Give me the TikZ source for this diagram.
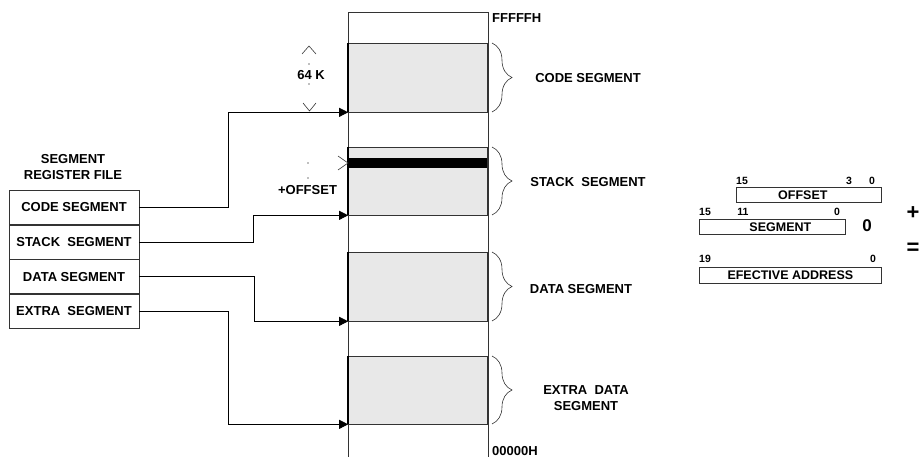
\documentclass[tikz,border=0pt]{standalone}
\usepackage{fontspec}
\setmainfont{Liberation Sans}
\usetikzlibrary{arrows.meta,decorations.pathreplacing}
\definecolor{segfill}{HTML}{E8E8E8}
\definecolor{rule}{HTML}{333333}
\begin{document}
\begin{tikzpicture}[x=1pt,y=-1pt,
  lbl/.style={font=\fontsize{13}{16}\selectfont\bfseries,inner sep=0pt,align=center},
  small/.style={font=\fontsize{10.5}{12}\selectfont\bfseries,inner sep=0pt},
  boxlbl/.style={font=\fontsize{12.5}{14}\selectfont\bfseries,inner sep=0pt},
  segbox/.style={draw=rule,fill=segfill,line width=0.7pt,minimum width=139pt,inner sep=0pt},
  regbox/.style={draw=rule,line width=0.8pt,minimum width=130pt,minimum height=33.75pt,inner sep=0pt,
    font=\fontsize{13}{16}\selectfont\bfseries},
  conn/.style={line width=0.8pt,-{Triangle[length=9pt,width=9pt]}},
  brc/.style={draw=rule,line width=0.6pt,decorate,decoration={brace,amplitude=20pt}},
  fieldbox/.style={draw=rule,line width=0.7pt,inner sep=0pt},
  chev/.style={line width=0.6pt,draw=rule},
  dot/.style={fill=gray,draw=none,circle,inner sep=0.6pt}]
\useasboundingbox (0,0) rectangle (924,457);

% memory column
\draw[rule,line width=0.8pt] (348,457) -- (348,12) -- (488,12) -- (488,457);

% segments in memory
\node[segbox,minimum height=69pt] (code)  at (418,77.5) {};
\node[segbox,minimum height=68pt] (stack) at (418,181) {};
\node[segbox,minimum height=69pt] (data)  at (418,286.5) {};
\node[segbox,minimum height=68pt] (extra) at (418,390) {};
\foreach \s in {code,stack,data,extra}
  \draw[line width=1.8pt] (\s.north west) -- (\s.south west);
\fill (349,158) rectangle (487,168);

% braces and segment names
\draw[brc] (492,43) -- (492,112);
\draw[brc] (492,147) -- (492,215);
\draw[brc] (492,252) -- (492,321);
\draw[brc] (492,356) -- (492,424);
\node[lbl] (lcode)  at (588,78)  {CODE SEGMENT};
\node[lbl] (lstack) at (588,182) {STACK\ \ SEGMENT};
\node[lbl] (ldata)  at (581,289) {DATA SEGMENT};
\node[lbl] (lextra) at (586,398) {EXTRA\ \ DATA\\SEGMENT};

% address limits
\node[lbl,anchor=west] (top) at (492,18) {FFFFFH};
\node[lbl,anchor=west] (bot) at (492,451) {00000H};

% segment size mark
\draw[chev] (302,54) -- (309,46) -- (316,54);
\draw[chev] (303,103) -- (309.5,111) -- (316,103);
\node[dot] (d1) at (309,64) {};
\node[dot] (d2) at (309,84) {};
\node[lbl] (size) at (311,75) {64 K};

% offset mark
\draw[chev] (338,156) -- (348,163) -- (338,170);
\node[dot] (d3) at (308,163) {};
\node[dot] (d4) at (308,178) {};
\node[lbl] (off) at (307.5,190) {+OFFSET};

% segment register file
\node[lbl] (title) at (73,167) {SEGMENT\\REGISTER FILE};
\node[regbox] (cs) at (74,207.5) {CODE SEGMENT};
\node[regbox,anchor=north] (ss) at (cs.south) {STACK\ \ SEGMENT};
\node[regbox,anchor=north] (ds) at (ss.south) {DATA SEGMENT};
\node[regbox,anchor=north] (es) at (ds.south) {EXTRA\ \ SEGMENT};

% connectors to segment bases
\draw[conn] (cs.east) -- ++(89,0) |- (code.south west);
\draw[conn] (ss.east) -- ++(114,0) |- (stack.south west);
\draw[conn] (ds.east) -- ++(115,0) |- (data.south west);
\draw[conn] (es.east) -- ++(89,0) |- (extra.south west);

% address calculation
\node[fieldbox,minimum width=145pt,minimum height=15pt,anchor=north west] (fo) at (736,187) {};
\node[boxlbl] (to) at ([xshift=-6pt]fo.center) {OFFSET};
\node[small] (b15o) at (742,180.5) {15};
\node[small] (b3o) at (849,180.5) {3};
\node[small] (b0o) at (872,180.5) {0};

\node[fieldbox,minimum width=146pt,minimum height=15pt,anchor=north west] (fs) at (699,219) {};
\node[boxlbl] (ts) at ([xshift=8pt]fs.center) {SEGMENT};
\node[small] (b15s) at (705,212) {15};
\node[small] (b11s) at (743,212) {11};
\node[small] (b0s) at (837,212) {0};
\node[font=\fontsize{17}{20}\selectfont\bfseries,inner sep=0pt] (z) at (867,226) {0};

\node[fieldbox,minimum width=182pt,minimum height=16pt,anchor=north west] (fe) at (699,267) {};
\node[boxlbl] (te) at (fe.center) {EFECTIVE ADDRESS};
\node[small] (b19e) at (705,259) {19};
\node[small] (b0e) at (873,259) {0};

\node[font=\fontsize{22}{24}\selectfont\bfseries,inner sep=0pt] (plus) at (913,213) {+};
\node[font=\fontsize{22}{24}\selectfont\bfseries,inner sep=0pt] (eq) at (913,249) {=};
\end{tikzpicture}
\end{document}
